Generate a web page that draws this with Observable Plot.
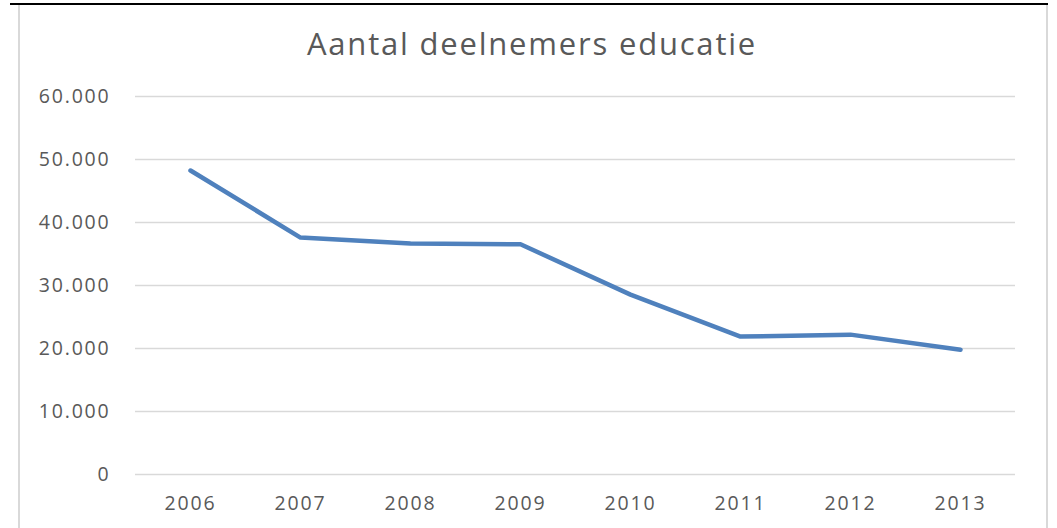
<!DOCTYPE html>
<html>
<head>
<meta charset="utf-8">
<script src="https://cdn.jsdelivr.net/npm/d3@7"></script>
<script src="https://cdn.jsdelivr.net/npm/@observablehq/plot@0.6"></script>
<style>
  html, body { margin: 0; padding: 0; background: #fff; }
  #wrap { position: relative; width: 1057px; height: 528px; overflow: hidden; }
  #title { position: absolute; left: 0; width: 1064px; top: 28px; text-align: center;
           font-family: "Open Sans", sans-serif; font-size: 31px; line-height: 31px;
           letter-spacing: 1.8px; color: #595959; }
  .topline { position: absolute; left: 10px; top: 3px; width: 1038px; height: 2px; background: #000; }
  .vline { position: absolute; top: 5px; width: 2px; height: 523px; background: #d9d9d9; }
  #chart { position: absolute; left: 0; top: 0; }
</style>
</head>
<body>
<div id="wrap">
  <div id="chart"></div>
  <div class="topline"></div>
  <div class="vline" style="left:18px"></div>
  <div class="vline" style="left:1046px"></div>
  <div id="title">Aantal deelnemers educatie</div>
</div>
<script>
const years = ["2006", "2007", "2008", "2009", "2010", "2011", "2012", "2013"];
const participants = [48250, 37600, 36650, 36550, 28550, 21900, 22200, 19800];
const yTicks = [0, 10000, 20000, 30000, 40000, 50000, 60000];

const data = years.map((year, i) => ({year, value: participants[i]}));
const nl = d3.formatLocale({decimal: ",", thousands: ".", grouping: [3], currency: ["€", ""]});
const fmt = nl.format(",");

const chart = Plot.plot({
  width: 1057,
  height: 528,
  marginLeft: 135,
  marginRight: 42,
  marginTop: 96,
  marginBottom: 54,
  style: {fontFamily: "Open Sans, sans-serif", fontSize: "19.5px", color: "#595959", background: "transparent", letterSpacing: "1.8px"},
  x: {type: "point", domain: years, padding: 0.5, label: null},
  y: {domain: [0, 60000], label: null},
  marks: [
    Plot.gridY(yTicks, {stroke: "#d9d9d9", strokeOpacity: 1, strokeWidth: 1.5}),
    Plot.axisY(yTicks, {tickSize: 0, tickPadding: 25, tickFormat: fmt, fill: "#595959"}),
    Plot.axisX(years, {tickSize: 0, tickPadding: 22, fill: "#595959"}),
    Plot.line(data, {x: "year", y: "value", stroke: "#4f81bd", strokeWidth: 4.5, strokeLinecap: "round", strokeLinejoin: "round"})
  ]
});
document.getElementById("chart").appendChild(chart);
</script>
</body>
</html>
